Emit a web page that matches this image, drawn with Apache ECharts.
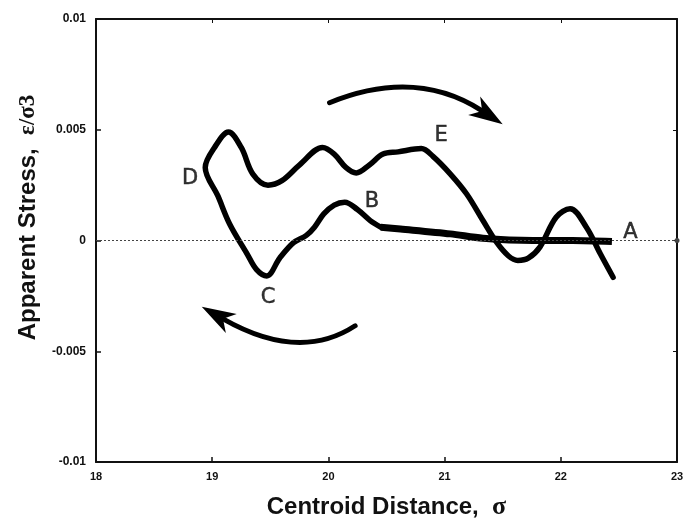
<!DOCTYPE html>
<html>
<head>
<meta charset="utf-8">
<script src="https://cdn.jsdelivr.net/npm/echarts@6/dist/echarts.min.js"></script>
<style>
  html, body { margin: 0; padding: 0; background: #fff; }
  #chart { width: 684px; height: 521px; }
</style>
</head>
<body>
<div id="chart"></div>
<script>
// flat tail running out to A (drawn heavier in the original)
var tailA = [
  [22.44, -0.00005], [22.1, 0.0], [21.76, 0.0], [21.33, 0.0001],
  [21.05, 0.0003], [20.62, 0.00052], [20.45, 0.0006]
];
// rest of the path: A -> B -> C -> D -> E -> end
var loopPath = [
  [20.45, 0.0006], [20.36, 0.0009], [20.25, 0.0014], [20.14, 0.00173],
  [20.05, 0.0016], [19.96, 0.0012], [19.88, 0.0006], [19.81, 0.00023],
  [19.70, -0.0001], [19.58, -0.0008], [19.47, -0.0016], [19.38, -0.0013],
  [19.3, -0.0006], [19.15, 0.00075], [19.05, 0.002], [18.94, 0.0033],
  [19.02, 0.0042], [19.14, 0.0049], [19.25, 0.0042], [19.35, 0.003],
  [19.48, 0.0025], [19.6, 0.0027], [19.75, 0.0034], [19.95, 0.0042],
  [20.05, 0.0039], [20.15, 0.0033], [20.24, 0.00305], [20.35, 0.0034],
  [20.47, 0.0039], [20.6, 0.004], [20.8, 0.00415], [20.9, 0.0038],
  [21.05, 0.003], [21.19, 0.0021], [21.33, 0.0009], [21.45, -0.0001],
  [21.55, -0.0007], [21.63, -0.0009], [21.72, -0.0008], [21.82, -0.0003],
  [21.96, 0.00105], [22.08, 0.00143], [22.22, 0.0006], [22.34, -0.0006],
  [22.45, -0.00166]
];
var pointLabels = ['A', 'B', 'C', 'D', 'E'];
var labelPos = [
  [22.6, 0.00036], [20.375, 0.00176], [19.48, -0.00258], [18.81, 0.0028], [20.97, 0.00475]
];
var xTicks = [18, 19, 20, 21, 22, 23];
var yTicks = [-0.01, -0.005, 0, 0.005, 0.01];
// arrows: start, control, end(tip) in data units
var arrowTop = [[20.01, 0.00622], [20.75, 0.0078], [21.5, 0.00525]];
var arrowBottom = [[20.23, -0.00385], [19.75, -0.0055], [18.91, -0.00299]];

var chart = echarts.init(document.getElementById('chart'));
var txt = '#111';
var boldFont = '"Liberation Sans", Arial, sans-serif';
var tickFont = '"Liberation Sans Narrow", "Liberation Sans", Arial, sans-serif';

var option = {
  animation: false,
  grid: { left: 96, right: 7, top: 19, bottom: 59, outerBoundsMode: 'none' },
  xAxis: [{
    type: 'value', min: 18, max: 23, interval: 1,
    name: 'Centroid Distance,  {s|σ}',
    nameLocation: 'middle', nameGap: 32,
    nameTextStyle: {
      fontFamily: boldFont, fontWeight: 'bold', fontSize: 24, color: txt,
      rich: { s: { fontFamily: '"Liberation Serif", serif', fontSize: 26, color: txt } }
    },
    axisLine: { onZero: false, lineStyle: { color: txt, width: 2 } },
    axisTick: { inside: true, length: 5, lineStyle: { color: txt, width: 1.5 } },
    axisLabel: {
      fontFamily: tickFont, fontWeight: 'bold', fontSize: 11, color: txt, margin: 9,
      formatter: function (v) { return xTicks.indexOf(v) >= 0 ? String(v) : ''; }
    },
    splitLine: { show: false }
  }, {
    type: 'value', min: 18, max: 23, interval: 1, position: 'top',
    axisLine: { onZero: false, lineStyle: { color: txt, width: 2 } },
    axisTick: { inside: true, length: 4, lineStyle: { color: txt } },
    axisLabel: { show: false }, splitLine: { show: false }
  }],
  yAxis: [{
    type: 'value', min: -0.01, max: 0.01, interval: 0.005,
    name: 'Apparent Stress,  {s|ε/σ3}',
    nameLocation: 'middle', nameGap: 56,
    nameTextStyle: {
      fontFamily: boldFont, fontWeight: 'bold', fontSize: 24, color: txt,
      padding: [0, 0, 0, 46],
      rich: { s: { fontFamily: '"Liberation Serif", serif', fontSize: 23, color: txt } }
    },
    axisLine: { onZero: false, lineStyle: { color: txt, width: 2 } },
    axisTick: { inside: true, length: 5, lineStyle: { color: txt, width: 1.5 } },
    axisLabel: {
      fontFamily: tickFont, fontWeight: 'bold', fontSize: 12, color: txt, margin: 10,
      formatter: function (v) {
        var r = Math.round(v * 1000) / 1000;
        return yTicks.indexOf(r) >= 0 ? String(r) : '';
      }
    },
    splitLine: { show: false }
  }, {
    type: 'value', min: -0.01, max: 0.01, interval: 0.005, position: 'right',
    axisLine: { onZero: false, lineStyle: { color: txt, width: 2 } },
    axisTick: { inside: true, length: 4, lineStyle: { color: txt } },
    axisLabel: { show: false }, splitLine: { show: false }
  }],
  series: [{
    type: 'line', data: loopPath, smooth: 0.35, symbol: 'none',
    lineStyle: { color: '#000', width: 5.5, cap: 'round', join: 'round' },
    markLine: {
      silent: true, symbol: ['none', 'circle'], symbolSize: 5,
      label: { show: false },
      lineStyle: { color: '#444', type: [2, 2], width: 1 },
      data: [{ yAxis: 0 }]
    },
    z: 3
  }, {
    type: 'line', data: tailA, smooth: 0.3, symbol: 'none',
    lineStyle: { color: '#000', width: 7, cap: 'butt' },
    z: 3
  }, {
    type: 'scatter', symbolSize: 0,
    data: labelPos.map(function (p, i) { return { value: p, name: pointLabels[i] }; }),
    label: {
      show: true, position: 'inside', formatter: '{b}',
      fontFamily: '"DejaVu Sans", sans-serif', fontSize: 21, color: '#000',
      textBorderColor: '#000', textBorderWidth: 0.5
    },
    z: 4
  }]
};
chart.setOption(option);

function arrowGraphic(pts) {
  var p = pts.map(function (d) { return chart.convertToPixel({ gridIndex: 0 }, d); });
  var tip = p[2], ctrl = p[1];
  var dx = tip[0] - ctrl[0], dy = tip[1] - ctrl[1];
  var len = Math.sqrt(dx * dx + dy * dy);
  var ux = dx / len, uy = dy / len;
  var headL = 34, headW = 11;
  var base = [tip[0] - ux * headL, tip[1] - uy * headL];
  var notch = [tip[0] - ux * headL * 0.72, tip[1] - uy * headL * 0.72];
  var left = [base[0] - uy * headW, base[1] + ux * headW];
  var right = [base[0] + uy * headW, base[1] - ux * headW];
  return [{
    type: 'bezierCurve',
    shape: { x1: p[0][0], y1: p[0][1], cpx1: ctrl[0], cpy1: ctrl[1], x2: notch[0], y2: notch[1] },
    style: { stroke: '#000', lineWidth: 5, fill: null, lineCap: 'round' },
    z: 5
  }, {
    type: 'polygon',
    shape: { points: [tip, left, notch, right] },
    style: { fill: '#000' },
    z: 5
  }];
}
chart.setOption({ graphic: arrowGraphic(arrowTop).concat(arrowGraphic(arrowBottom)) });
</script>
</body>
</html>
